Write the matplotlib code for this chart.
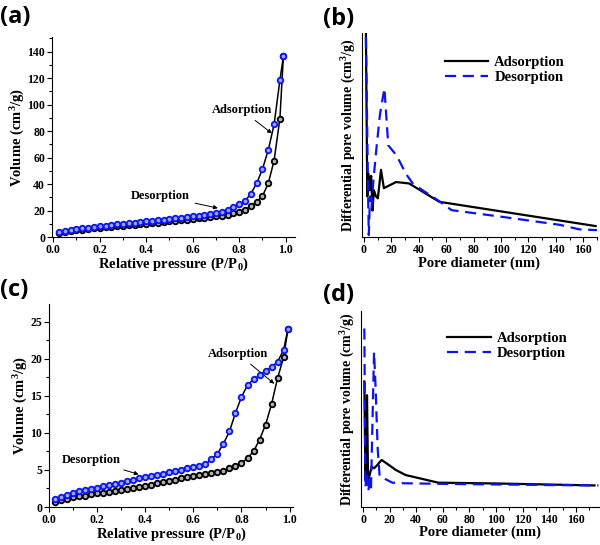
import matplotlib
matplotlib.use('Agg')
import matplotlib.pyplot as plt
from matplotlib.ticker import MultipleLocator

plt.rcParams['font.family'] = ['Liberation Serif', 'DejaVu Serif']
plt.rcParams['font.weight'] = 'bold'
plt.rcParams['mathtext.default'] = 'regular'

# (a) isotherm
p_a = [0.025, 0.05, 0.075, 0.1, 0.125, 0.15, 0.175, 0.2, 0.225, 0.25, 0.275, 0.3, 0.325, 0.35,
       0.375, 0.4, 0.425, 0.45, 0.475, 0.5, 0.525, 0.55, 0.575, 0.6, 0.625, 0.65, 0.675, 0.7,
       0.725, 0.75, 0.775, 0.8, 0.825, 0.85, 0.875, 0.9, 0.925, 0.95, 0.975, 0.99]
ads_a = [3.0, 3.8, 4.4, 5.0, 5.5, 6.0, 6.5, 7.0, 7.4, 7.8, 8.2, 8.6, 9.0, 9.4,
         9.8, 10.2, 10.6, 11.0, 11.4, 11.8, 12.2, 12.6, 13.1, 13.6, 14.1, 14.6, 15.1, 15.6,
         16.2, 16.9, 17.8, 19.0, 20.8, 23.2, 26.8, 31.0, 40.5, 57.8, 89.5, 136.5]
des_a = [3.8, 4.8, 5.5, 6.0, 6.5, 7.0, 7.5, 8.0, 8.5, 9.0, 9.5, 10.0, 10.4, 10.9,
         11.4, 11.8, 12.3, 12.8, 13.2, 13.7, 14.1, 14.6, 15.1, 15.6, 16.1, 16.6, 17.2, 17.9,
         18.8, 20.5, 22.4, 24.8, 27.2, 32.8, 40.5, 51.3, 65.8, 85.0, 118.5, 136.5]

# (c) isotherm
p_c = [0.025, 0.05, 0.075, 0.1, 0.125, 0.15, 0.175, 0.2, 0.225, 0.25, 0.275, 0.3, 0.325, 0.35,
       0.375, 0.4, 0.425, 0.45, 0.475, 0.5, 0.525, 0.55, 0.575, 0.6, 0.625, 0.65, 0.675, 0.7,
       0.725, 0.75, 0.775, 0.8, 0.825, 0.85, 0.875, 0.9, 0.925, 0.95, 0.975, 0.993]
ads_c = [0.7, 0.95, 1.1, 1.3, 1.45, 1.55, 1.7, 1.85, 1.95, 2.05, 2.15, 2.3, 2.4, 2.5,
         2.65, 2.8, 3.0, 3.2, 3.35, 3.55, 3.7, 3.85, 4.0, 4.15, 4.3, 4.45, 4.6, 4.75,
         4.9, 5.2, 5.5, 5.9, 6.6, 7.5, 9.1, 11.1, 13.9, 17.4, 20.2, 24.0]
des_c = [1.1, 1.4, 1.65, 1.9, 2.1, 2.3, 2.45, 2.6, 2.8, 2.95, 3.1, 3.3, 3.45, 3.6,
         3.85, 4.05, 4.2, 4.35, 4.5, 4.7, 4.85, 5.0, 5.2, 5.35, 5.55, 5.75, 6.45, 7.2,
         8.55, 10.2, 12.7, 14.85, 16.45, 17.25, 17.75, 18.4, 18.9, 19.6, 21.2, 24.0]

# (b) pore size distribution (arbitrary units)
d_ads_b = [1.5, 2.0, 2.5, 3.4, 4.4, 5.3, 6.3, 7.3, 8.8, 10.2, 12.5, 14.6, 23.5, 33, 55, 169]
v_ads_b = [100, 60, 20, 31, 23, 30, 13, 23, 20, 19, 33, 24, 27, 26.3, 17.3, 5.4]
d_des_b = [1.5, 2.3, 3.0, 3.6, 4.5, 5.5, 7, 8.8, 11.7, 15.0, 17.8, 23.9, 30.7, 36, 55, 64, 100, 143, 157, 170]
v_des_b = [98, 60, 25, 1, 20, 14, 28, 41, 60, 73, 45, 40, 31, 26, 17.6, 13.2, 10, 6, 3.8, 3.4]

# (d) pore size distribution (arbitrary units)
d_ads_d = [1.0, 1.8, 2.5, 3.0, 3.8, 5, 6.5, 8.3, 10.7, 14, 19.5, 24.6, 32, 56.6, 100, 174]
v_ads_d = [64, 14, 30, 57, 14, 16.3, 20.6, 19.7, 21.4, 24, 21.4, 18.9, 16.3, 12.4, 12, 11]
d_des_d = [1.0, 1.8, 3, 4, 5, 6, 7, 8.3, 9.5, 11, 12.5, 15.8, 22, 30.8, 60, 100, 140, 177]
v_des_d = [91, 10, 18, 8, 14, 10, 40, 79, 60, 30, 15.5, 14.6, 12.4, 12.1, 11.8, 11.5, 11.2, 11]

BLUE = '#0a14f0'

fig = plt.figure(figsize=(6, 5.45), dpi=100)
ax_a = fig.add_axes([0.0867, 0.565, 0.405, 0.367])
ax_b = fig.add_axes([0.603, 0.565, 0.392, 0.374])
ax_c = fig.add_axes([0.0817, 0.0697, 0.407, 0.3725])
ax_d = fig.add_axes([0.6017, 0.0697, 0.398, 0.36])

for ax in (ax_a, ax_b, ax_c, ax_d):
    ax.spines['top'].set_visible(False)
    ax.spines['right'].set_visible(False)
    ax.tick_params(direction='out', length=3.5, width=0.8, labelsize=8.5, pad=1.5)
    ax.tick_params(which='minor', direction='out', length=2, width=0.8)


def isotherm(ax, p, ads, des):
    ax.plot(p, ads, color='black', lw=1.1, marker='o', ms=4, mew=1.3,
            mfc='#b0b0b0', mec='black', zorder=3)
    ax.plot(p, des, color='black', lw=1.1, marker='o', ms=4, mew=1.3,
            mfc='#9aa4ff', mec=BLUE, zorder=4)
    ax.set_xlabel('Relative pressure (P/P$_0$)', fontsize=10.5, fontweight='bold', labelpad=0)
    ax.set_ylabel('Volume (cm$^3$/g)', fontsize=10.5, fontweight='bold', labelpad=0)
    ax.xaxis.set_major_locator(MultipleLocator(0.2))
    ax.xaxis.set_minor_locator(MultipleLocator(0.1))


isotherm(ax_a, p_a, ads_a, des_a)
ax_a.set_xlim(-0.005, 1.04)
ax_a.set_ylim(0, 151)
ax_a.yaxis.set_major_locator(MultipleLocator(20))
ax_a.yaxis.set_minor_locator(MultipleLocator(10))
arr = dict(arrowstyle='-|>', color='black', lw=0.7, mutation_scale=6)
ax_a.annotate('Adsorption', xy=(0.95, 77), xytext=(0.81, 96), fontsize=9,
              fontweight='bold', ha='center', va='center', arrowprops=arr)
ax_a.annotate('Desorption', xy=(0.72, 21.4), xytext=(0.46, 31.3), fontsize=9,
              fontweight='bold', ha='center', va='center', arrowprops=arr)

isotherm(ax_c, p_c, ads_c, des_c)
ax_c.set_xlim(0, 1.015)
ax_c.set_ylim(0, 27.4)
ax_c.yaxis.set_major_locator(MultipleLocator(5))
ax_c.yaxis.set_minor_locator(MultipleLocator(2.5))
ax_c.annotate('Adsorption', xy=(0.945, 16.4), xytext=(0.785, 20.7), fontsize=9,
              fontweight='bold', ha='center', va='center', arrowprops=arr)
ax_c.annotate('Desorption', xy=(0.384, 4.3), xytext=(0.176, 6.3), fontsize=9,
              fontweight='bold', ha='center', va='center', arrowprops=arr)


def psd(ax, da, va, dd, vd, xmax, leg_y):
    ax.plot(da, va, color='black', lw=1.6, label='Adsorption')
    ax.plot(dd, vd, color=BLUE, lw=1.6, ls=(0, (5, 3)), label='Desorption')
    ax.set_xlim(-1.5, xmax)
    ax.set_ylim(0, 100)
    ax.set_yticks([])
    ax.xaxis.set_major_locator(MultipleLocator(20))
    ax.xaxis.set_minor_locator(MultipleLocator(10))
    ax.set_xlabel('Pore diameter (nm)', fontsize=10.5, fontweight='bold', labelpad=0)
    ax.set_ylabel('Differential pore volume (cm$^3$/g)', fontsize=10, fontweight='bold', labelpad=3)
    ax.legend(loc='upper right', bbox_to_anchor=(0.92, leg_y), frameon=False,
              prop={'weight': 'bold', 'size': 10.5}, handlelength=3.0,
              labelspacing=0.15, handletextpad=0.4)


psd(ax_b, d_ads_b, v_ads_b, d_des_b, v_des_b, 170, 0.955)
psd(ax_d, d_ads_d, v_ads_d, d_des_d, v_des_d, 178, 0.96)

for lab, x, y in [('(a)', 0.0, 0.99), ('(b)', 0.538, 0.988), ('(c)', 0.0, 0.49), ('(d)', 0.538, 0.48)]:
    fig.text(x, y, lab, fontsize=17, fontweight='bold', family=['Open Sans', 'DejaVu Sans'],
             ha='left', va='top')

fig.savefig('out.png', dpi=100)
